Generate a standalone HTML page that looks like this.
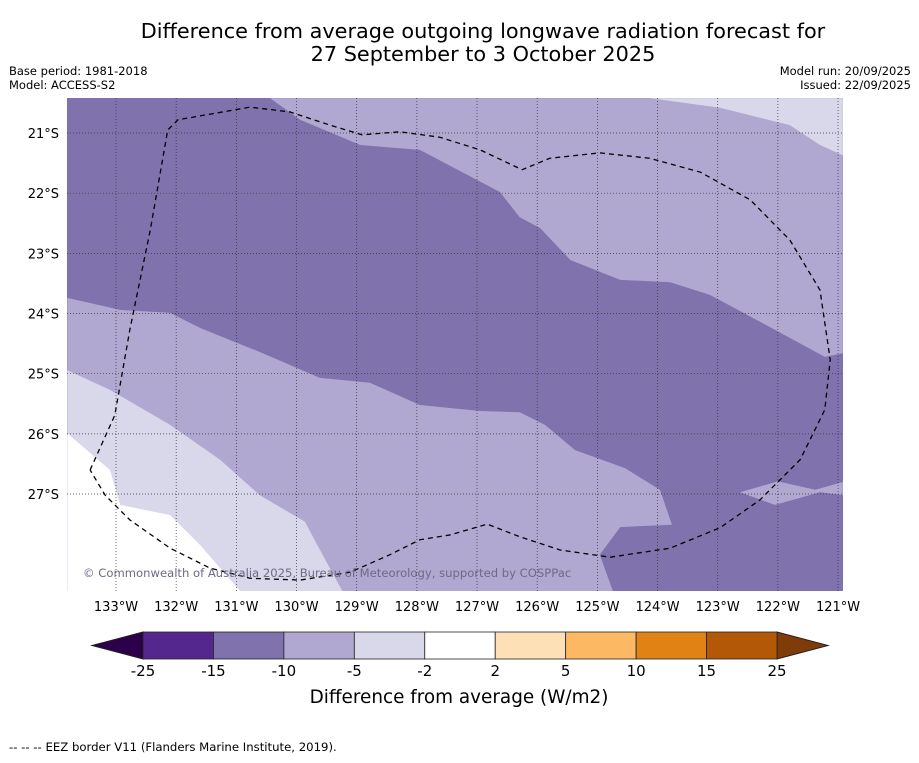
<!DOCTYPE html>
<html><head><meta charset="utf-8"><style>
body{margin:0;background:#fff;}
svg text{font-family:"DejaVu Sans","Liberation Sans",sans-serif;}
</style></head><body>
<svg id="chart" width="919" height="758" viewBox="0 0 919 758" xmlns="http://www.w3.org/2000/svg">
<rect width="919" height="758" fill="#fff"/>
<text x="483" y="38" font-size="20.8" text-anchor="middle">Difference from average outgoing longwave radiation forecast for</text>
<text x="483" y="61" font-size="20.8" text-anchor="middle">27 September to 3 October 2025</text>
<text x="9" y="75" font-size="11.5">Base period: 1981-2018</text>
<text x="9" y="89" font-size="11.5">Model: ACCESS-S2</text>
<text x="911" y="75" font-size="11.5" text-anchor="end">Model run: 20/09/2025</text>
<text x="911" y="89" font-size="11.5" text-anchor="end">Issued: 22/09/2025</text>
<defs><clipPath id="mapclip"><rect x="67" y="98" width="776" height="493"/></clipPath></defs>
<g id="map" clip-path="url(#mapclip)"></g>
<g id="axes"></g>
<g id="cbar"></g>
<text x="459" y="703" font-size="18.4" text-anchor="middle">Difference from average (W/m2)</text>
<text x="9" y="751" font-size="11.7">--  --  -- EEZ border V11 (Flanders Marine Institute, 2019).</text>
</svg>
<script>
const lonTicks=[-133,-132,-131,-130,-129,-128,-127,-126,-125,-124,-123,-122,-121];
const latTicks=[-21,-22,-23,-24,-25,-26,-27];
const cbBounds=[-25,-15,-10,-5,-2,2,5,10,15,25];
const cbColors=["#54278f","#7f72ad","#b0a8d0","#d9d8ea","#ffffff","#fee0b6","#fdb863","#e08214","#b35806"];
const cbExtLow="#2d004b", cbExtHigh="#7f3b08";
const lightUpper=[[-130.44,-20.42],[-129.94,-20.78],[-128.94,-21.20],[-127.95,-21.28],[-126.62,-21.98],[-126.29,-22.40],[-125.95,-22.58],[-125.45,-23.11],[-124.62,-23.44],[-123.79,-23.48],[-123.13,-23.69],[-122.05,-24.27],[-121.22,-24.72],[-120.92,-24.66],[-120.92,-20.42]];
const veryLightUpper=[[-124.13,-20.42],[-122.96,-20.58],[-121.80,-20.87],[-121.30,-21.20],[-120.92,-21.37],[-120.92,-20.42]];
const lightLower=[[-133.81,-23.74],[-132.93,-23.94],[-132.10,-23.99],[-131.60,-24.24],[-130.61,-24.64],[-129.61,-25.07],[-128.78,-25.15],[-127.95,-25.52],[-126.95,-25.62],[-126.29,-25.64],[-125.87,-25.85],[-125.37,-26.27],[-124.54,-26.57],[-123.96,-26.93],[-123.76,-27.51],[-124.62,-27.55],[-124.96,-28.01],[-124.71,-28.70],[-133.81,-28.70]];
const veryLightLower=[[-133.81,-24.94],[-133.10,-25.27],[-132.10,-25.85],[-131.27,-26.43],[-130.61,-27.02],[-129.86,-27.46],[-129.61,-27.93],[-129.19,-28.70],[-133.81,-28.70]];
const whiteLower=[[-133.81,-25.99],[-133.10,-26.60],[-132.93,-27.18],[-132.10,-27.35],[-131.60,-27.85],[-130.86,-28.70],[-133.81,-28.70]];
const lightRight=[[-122.63,-26.97],[-122.00,-26.79],[-121.38,-26.93],[-120.92,-26.80],[-120.92,-27.02],[-121.30,-26.97],[-122.05,-27.18]];
const eez=[[-133.43,-26.60],[-133.02,-25.69],[-132.77,-24.27],[-132.43,-22.61],[-132.14,-20.95],[-131.97,-20.78],[-130.77,-20.57],[-130.11,-20.65],[-129.44,-20.87],[-128.91,-21.03],[-128.28,-20.98],[-127.62,-21.07],[-126.95,-21.28],[-126.25,-21.61],[-125.79,-21.42],[-124.96,-21.33],[-124.13,-21.42],[-123.29,-21.65],[-122.46,-22.11],[-121.80,-22.78],[-121.30,-23.61],[-121.13,-24.77],[-121.22,-25.60],[-121.63,-26.43],[-122.30,-27.10],[-122.96,-27.56],[-123.79,-27.90],[-124.79,-28.05],[-125.62,-27.93],[-126.29,-27.71],[-126.83,-27.50],[-127.45,-27.68],[-127.95,-27.76],[-128.45,-28.01],[-129.11,-28.30],[-129.94,-28.43],[-130.77,-28.40],[-131.44,-28.23],[-132.10,-27.90],[-132.77,-27.43],[-133.18,-27.02],[-133.43,-26.60]];
const NS="http://www.w3.org/2000/svg";
const X0=116,DX=60.17,Y0=133;
function xs(lon){return X0+(lon+133)*DX;}
function ys(lat){return Y0+(-21-lat)*DX;}
function mk(tag,attrs,parent){const e=document.createElementNS(NS,tag);for(const k in attrs)e.setAttribute(k,attrs[k]);parent.appendChild(e);return e;}
const map=document.getElementById('map');
const bg=mk('rect',{x:67,y:98,width:776,height:493,fill:"#7f72ad"},map);


function poly(pts,fill,name){const p=mk('polygon',{points:pts.map(q=>xs(q[0])+','+ys(q[1])).join(' '),fill:fill},map);

}
poly(lightUpper,"#b0a8d0","anomaly-band-upper-minus10-to-minus5");
poly(veryLightUpper,"#d9d8ea","anomaly-band-upper-minus5-to-minus2");
poly(lightLower,"#b0a8d0","anomaly-band-lower-minus10-to-minus5");
poly(veryLightLower,"#d9d8ea","anomaly-band-lower-minus5-to-minus2");
poly(whiteLower,"#ffffff","anomaly-band-lower-near-zero");
poly(lightRight,"#b0a8d0","anomaly-band-right-patch");
lonTicks.forEach(l=>{const g=mk('line',{x1:xs(l),x2:xs(l),y1:98,y2:591,stroke:"#333",'stroke-width':0.7,'stroke-dasharray':"1 2"},map);

});
latTicks.forEach(l=>{const g=mk('line',{x1:67,x2:843,y1:ys(l),y2:ys(l),stroke:"#333",'stroke-width':0.7,'stroke-dasharray':"1 2"},map);

});
const ez=mk('polyline',{points:eez.map(q=>xs(q[0])+','+ys(q[1])).join(' '),fill:"none",stroke:"#000",'stroke-width':1.3,'stroke-dasharray':"5 4"},map);


const cr=mk('text',{x:83,y:577,'font-size':11.6,fill:"#6e6a86"},map);
cr.textContent="© Commonwealth of Australia 2025, Bureau of Meteorology, supported by COSPPac";


const axes=document.getElementById('axes');
lonTicks.forEach(l=>{const t=mk('text',{x:xs(l),y:611,'font-size':13,'text-anchor':'middle'},axes);t.textContent=(-l)+"°W";

});
latTicks.forEach(l=>{const t=mk('text',{x:59,y:ys(l)+5,'font-size':13,'text-anchor':'end'},axes);t.textContent=(-l)+"°S";

});
const cb=document.getElementById('cbar');
const CX0=143,CW=634/(cbBounds.length-1),CY=632,CH=27;
const el=mk('polygon',{points:`${CX0},${CY} 92,${CY+CH/2} ${CX0},${CY+CH}`,fill:cbExtLow,stroke:"#222",'stroke-width':1},cb);


const eh=mk('polygon',{points:`${CX0+634},${CY} 828,${CY+CH/2} ${CX0+634},${CY+CH}`,fill:cbExtHigh,stroke:"#222",'stroke-width':1},cb);


cbColors.forEach((c,i)=>{const r=mk('rect',{x:CX0+i*CW,y:CY,width:CW,height:CH,fill:c,stroke:"#222",'stroke-width':0.8},cb);

});
cbBounds.forEach((b,i)=>{const t=mk('text',{x:CX0+i*CW,y:676,'font-size':15,'text-anchor':'middle'},cb);t.textContent=b;

});
</script>
</body></html>
